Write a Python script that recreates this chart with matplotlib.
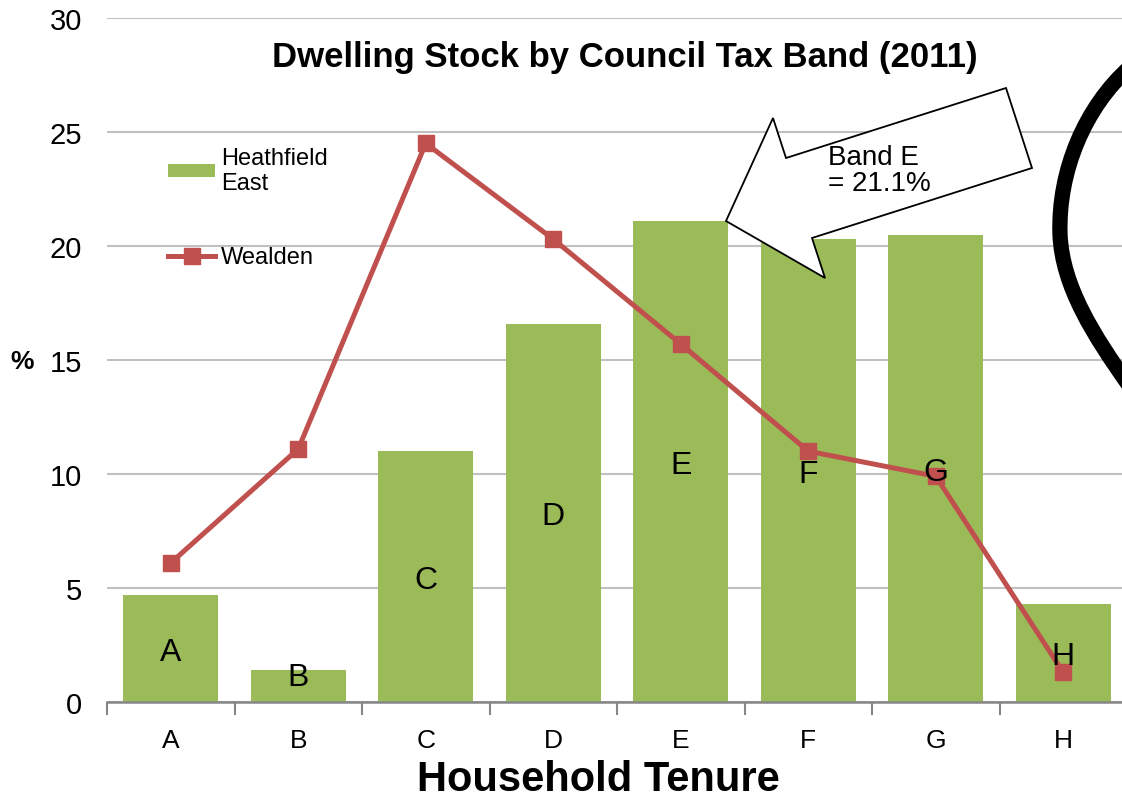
"""Dwelling stock by council tax band (2011), Heathfield East vs Wealden."""

import matplotlib

matplotlib.use("Agg")

import matplotlib.pyplot as plt
from matplotlib.lines import Line2D
from matplotlib.patches import Patch, PathPatch, Polygon
from matplotlib.path import Path
from matplotlib.transforms import Affine2D

plt.rcParams["font.family"] = ["Liberation Sans", "DejaVu Sans"]

# --- data ---------------------------------------------------------------
bands = ["A", "B", "C", "D", "E", "F", "G", "H"]
heathfield_east = [4.7, 1.4, 11.0, 16.6, 21.1, 20.3, 20.5, 4.3]
wealden = [6.1, 11.1, 24.5, 20.3, 15.7, 11.0, 9.9, 1.3]
y_ticks = [0, 5, 10, 15, 20, 25, 30]

BAR_GREEN = "#9BBB59"
LINE_RED = "#C0504D"
GRID_GREY = "#C0C0C0"
AXIS_GREY = "#868686"

W_PX, H_PX = 1122, 803

fig = plt.figure(figsize=(W_PX / 100, H_PX / 100), dpi=100)
# plot area runs slightly past the right edge, as in the original slide
ax = fig.add_axes([107 / W_PX, 100 / H_PX, 1020 / W_PX, 684 / H_PX])

x = list(range(len(bands)))
ax.bar(x, heathfield_east, width=0.745, color=BAR_GREEN, zorder=2)
ax.plot(x, wealden, color=LINE_RED, linewidth=3.6, marker="s",
        markersize=12, zorder=3)

for xi, band, value in zip(x, bands, heathfield_east):
    ax.text(xi, max(value / 2, 1.25), band, ha="center",
            va="center_baseline", fontsize=23, color="black", zorder=4)

ax.set_xlim(-0.5, len(bands) - 0.5)
ax.set_ylim(0, 30)
ax.set_yticks(y_ticks)
ax.set_xticks(x)
ax.set_xticklabels(bands)
ax.set_xticks([i - 0.5 for i in range(len(bands) + 1)], minor=True)
ax.tick_params(axis="y", length=0, labelsize=21, pad=18)
ax.tick_params(axis="x", which="major", length=0, labelsize=19, pad=19)
ax.tick_params(axis="x", which="minor", length=9, width=1.5,
               color=AXIS_GREY, direction="out")
ax.grid(axis="y", color=GRID_GREY, linewidth=1.5, zorder=0)
ax.set_axisbelow(True)
for side in ("left", "right", "top"):
    ax.spines[side].set_visible(False)
ax.spines["bottom"].set_color(AXIS_GREY)
ax.spines["bottom"].set_linewidth(1.8)

ax.set_xlabel("Household Tenure", fontsize=30, fontweight="bold")
ax.xaxis.set_label_coords((598 - 107) / 1020, -77 / 684)
ax.xaxis.label.set_va("center")
ax.set_ylabel("%", fontsize=19, fontweight="bold", rotation=0)
ax.yaxis.set_label_coords((22 - 107) / 1020, (703 - 362) / 684)
ax.yaxis.label.set_va("center")
ax.yaxis.label.set_ha("center")

handles = [
    Patch(facecolor=BAR_GREEN, edgecolor="none"),
    Line2D([], [], color=LINE_RED, linewidth=3.6, marker="s",
           markersize=12),
]
ax.legend(handles, ["Heathfield\nEast", "Wealden"], loc="upper left",
          bbox_to_anchor=(168 / W_PX, (H_PX - 148) / H_PX),
          bbox_transform=fig.transFigure, frameon=False, fontsize=17,
          handlelength=2.0, handleheight=0.45, handletextpad=0.25,
          labelspacing=2.2, borderaxespad=0, borderpad=0)

fig.text(625 / W_PX, 1 - 57 / H_PX,
         "Dwelling Stock by Council Tax Band (2011)",
         ha="center", va="center", fontsize=25, fontweight="bold")

# --- call-out arrow and hand-drawn curve (figure pixels, from top-left) --
pix = Affine2D().scale(1 / W_PX, -1 / H_PX).translate(0, 1) + fig.transFigure

arrow_outline = [(726, 222), (773, 119), (786, 159), (1006, 89),
                 (1032, 169), (812, 239), (825, 279)]
fig.add_artist(Polygon(arrow_outline, closed=True, facecolor="white",
                       edgecolor="black", linewidth=1.3, transform=pix,
                       zorder=5))
fig.text(828 / W_PX, 1 - 145 / H_PX, "Band E\n= 21.1%", ha="left",
         va="top", fontsize=20, linespacing=1.0, zorder=6)

curve = Path(
    [(1130, 68), (1085, 108), (1058, 172), (1060, 235),
     (1062, 288), (1095, 338), (1128, 385)],
    [Path.MOVETO, Path.CURVE4, Path.CURVE4, Path.CURVE4,
     Path.CURVE4, Path.CURVE4, Path.CURVE4],
)
fig.add_artist(PathPatch(curve, facecolor="none", edgecolor="black",
                         linewidth=11, transform=pix, zorder=5))

fig.savefig("out.png", dpi=100)
